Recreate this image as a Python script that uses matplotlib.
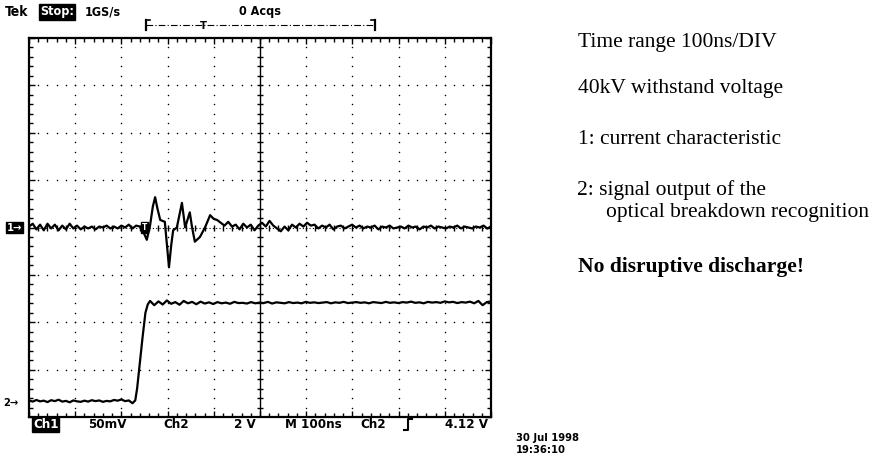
import numpy as np
import matplotlib.pyplot as plt
from matplotlib import transforms
from matplotlib.lines import Line2D

# Channel 1: current characteristic in mV (50 mV/div)
ch1_pre = [1, 4, -2, 3, -3, 4, -1, 3, -3, 2, -2, 4, -1, 2, -2, 1, -1, 1, -2, 1,
           0, 2, -1, 1, -1, 2, 0, 3, -1, 2, 1]
ch1_event_t = [247, 255, 262, 268, 273, 278, 284, 294, 299, 303, 308, 312, 320,
               326, 331, 338, 343, 348, 353, 359, 370, 381, 392, 400, 407]
ch1_event_mv = [-4, -13, 2, 22, 32, 20, 8, 6, -20, -42, -18, -3, 0,
                14, 26, 0, 8, 16, 0, -15, -10, 0, 13, 9, 8]
ch1_post = [5, 2, 6, 1, 3, -2, 4, 0, 3, -3, 2, 5, 1, 7, 2, -1, -4, 1, -3, 3,
            0, 4, 1, 5, 2, 3, -1, 2, 0, 3, -2, 1, 2, -1, 1, 3, 0, 2, -1, 1,
            0, 2, -2, 1, 0, 2, -1, 0, 1, -1, 2, 0, 1, -2, 1, 0, 2, -1, 1, 0,
            -1, 1, 0, 2, -1, 1, 0, -1, 1, 0, 2, -1, 1]

# Channel 2: optical breakdown recognition output in V (2 V/div)
ch2_pre = [0.10, 0.05, 0.12, 0.06, 0.09, 0.03, 0.11, 0.07, 0.13, 0.05, 0.08,
           0.02, 0.10, 0.06, 0.04, 0.09, 0.05, 0.11, 0.07, 0.10, 0.04, 0.08,
           0.06, 0.12, 0.09, 0.14, 0.07, 0.10, -0.02]
ch2_rise_t = [230, 234, 240, 246, 252, 257]
ch2_rise_v = [0.10, 0.60, 1.70, 2.80, 3.80, 4.15]
ch2_post = [4.30, 4.12, 4.28, 4.15, 4.32, 4.18, 4.25, 4.14, 4.30, 4.20, 4.26,
            4.16, 4.27, 4.19, 4.24, 4.17, 4.25, 4.20, 4.23, 4.18, 4.26, 4.21,
            4.22, 4.19, 4.25, 4.20, 4.23, 4.21, 4.26, 4.19, 4.24, 4.22, 4.20,
            4.25, 4.21, 4.23, 4.20, 4.26, 4.22, 4.24, 4.21, 4.23, 4.25, 4.20,
            4.24, 4.22, 4.26, 4.21, 4.23, 4.25, 4.22, 4.24, 4.20, 4.25, 4.23,
            4.21, 4.26, 4.22, 4.24, 4.21, 4.25, 4.23, 4.27, 4.22, 4.24, 4.20,
            4.26, 4.23, 4.25, 4.22, 4.28, 4.24, 4.26, 4.21, 4.25, 4.23, 4.27,
            4.20, 4.30, 4.12, 4.25, 4.28]

CH1_SCALE = 50.0   # mV/div
CH2_SCALE = 2.0    # V/div
CH2_POS = -3.7     # div, ground marker of channel 2

t1 = np.concatenate([np.linspace(0, 240, len(ch1_pre)), ch1_event_t,
                     np.linspace(415, 1000, len(ch1_post))])
y1 = np.concatenate([ch1_pre, ch1_event_mv, ch1_post]) / CH1_SCALE
t2 = np.concatenate([np.linspace(0, 224, len(ch2_pre)), ch2_rise_t,
                     np.linspace(262, 1000, len(ch2_post))])
y2 = np.concatenate([ch2_pre, ch2_rise_v, ch2_post]) / CH2_SCALE + CH2_POS

W, H = 874, 462
fig = plt.figure(figsize=(W / 100, H / 100), dpi=100)
ax = fig.add_axes([29 / W, 45 / H, 462 / W, 379 / H])
ax.set_xlim(0, 1000)
ax.set_ylim(-4, 4)

# frame with inward ticks
for s in ax.spines.values():
    s.set_linewidth(1.6)
ax.set_xticks(np.arange(0, 1001, 100))
ax.set_xticks(np.arange(0, 1001, 20), minor=True)
ax.set_yticks(np.arange(-4, 5, 1))
ax.set_yticks(np.arange(-4, 4.01, 0.2), minor=True)
ax.tick_params(which='both', direction='in', top=True, right=True,
               labelbottom=False, labelleft=False, width=1)
ax.tick_params(which='major', length=4)
ax.tick_params(which='minor', length=3)

# dotted graticule
dot = dict(s=1.2, color='black', linewidths=0, zorder=1)
for xv in range(100, 1000, 100):
    if xv != 500:
        yy = np.arange(-4, 4.01, 0.2)
        ax.scatter(np.full_like(yy, xv), yy, **dot)
for yv in range(-3, 4):
    if yv != 0:
        xx = np.arange(0, 1001, 20)
        ax.scatter(xx, np.full_like(xx, yv, dtype=float), **dot)

# centre cross with ticks
ax.axvline(500, color='black', lw=1, zorder=1)
ax.axhline(0, color='black', lw=0.8, ls=(0, (1, 2)), zorder=1)
yy = np.arange(-4, 4.01, 0.2)
ax.scatter(np.full_like(yy, 500), yy, marker='_', s=18, color='black',
           linewidths=1, zorder=1)
xx = np.arange(0, 1001, 20)
ax.scatter(xx, np.zeros_like(xx), marker='|', s=14, color='black',
           linewidths=1, zorder=1)

# traces
ax.plot(t1, y1, color='black', lw=1.6, zorder=3)
ax.plot(t2, y2, color='black', lw=1.6, zorder=3)

tek = dict(family='DejaVu Sans', fontstretch='condensed', weight='bold')

# trigger point marker on channel 1
ax.text(250, 0, 'T', color='white', fontsize=6, ha='center', va='center',
        zorder=4, bbox=dict(facecolor='black', edgecolor='black', pad=0.6),
        **tek)

# channel ground markers
trans = transforms.blended_transform_factory(fig.transFigure, ax.transData)
ax.text(7 / W, 0, '1\u2192', transform=trans, color='white', fontsize=8,
        va='center', bbox=dict(facecolor='black', edgecolor='black', pad=0.5),
        **tek)
ax.text(3 / W, CH2_POS, '2\u2192', transform=trans, color='black', fontsize=8,
        va='center', **tek)

# record bracket above the screen
yb = 4.27
ax.plot([253, 749], [yb, yb], color='black', lw=0.8, ls=(0, (6, 2, 1, 2)),
        clip_on=False)
for xe, d in [(253, 8), (749, -8)]:
    ax.plot([xe, xe], [yb - 0.1, yb + 0.1], color='black', lw=1.6, clip_on=False)
    ax.plot([xe, xe + d], [yb + 0.1, yb + 0.1], color='black', lw=1.2, clip_on=False)
ax.text(377, yb - 0.02, 'T', fontsize=8, ha='center', va='center', **tek)

# header
ty = 1 - 12 / H
fig.text(5 / W, ty, 'Tek', fontsize=10, va='center', **tek)
fig.text(40 / W, ty, 'Stop:', fontsize=9, va='center', color='white',
         bbox=dict(facecolor='black', edgecolor='black', pad=0.8), **tek)
fig.text(85 / W, ty, '1GS/s', fontsize=9, va='center', **tek)
fig.text(260 / W, ty, '0 Acqs', fontsize=9, va='center', ha='center', **tek)

# status line under the screen
by = 1 - 425 / H
fig.text(33 / W, by, 'Ch1', fontsize=9.5, va='center', color='white',
         bbox=dict(facecolor='black', edgecolor='black', pad=0.6), **tek)
fig.text(88 / W, by, '50mV', fontsize=9.5, va='center', **tek)
fig.text(163 / W, by, 'Ch2', fontsize=9.5, va='center', **tek)
fig.text(256 / W, by, '2 V', fontsize=9.5, va='center', ha='right', **tek)
fig.text(285 / W, by, 'M 100ns', fontsize=9.5, va='center', **tek)
fig.text(360 / W, by, 'Ch2', fontsize=9.5, va='center', **tek)
fig.add_artist(Line2D([404 / W, 408 / W, 408 / W, 412 / W],
                      [1 - 430 / H, 1 - 430 / H, 1 - 419 / H, 1 - 419 / H],
                      transform=fig.transFigure, color='black', lw=1.5))
fig.text(488 / W, by, '4.12 V', fontsize=9.5, va='center', ha='right', **tek)
fig.text(516 / W, 1 - 438 / H, '30 Jul 1998', fontsize=8, va='center', **tek)
fig.text(516 / W, 1 - 450 / H, '19:36:10', fontsize=8, va='center', **tek)

# notes on the right
serif = dict(family='Liberation Serif', fontsize=15.5, va='center')
fig.text(578 / W, 1 - 43 / H, 'Time range 100ns/DIV', **serif)
fig.text(578 / W, 1 - 88 / H, '40kV withstand voltage', **serif)
fig.text(578 / W, 1 - 140 / H, '1: current characteristic', **serif)
fig.text(577 / W, 1 - 190 / H, '2: signal output of the', **serif)
fig.text(606 / W, 1 - 213 / H, 'optical breakdown recognition', **serif)
fig.text(578 / W, 1 - 267 / H, 'No disruptive discharge!', weight='bold', **serif)

plt.savefig('out.png', dpi=100)
